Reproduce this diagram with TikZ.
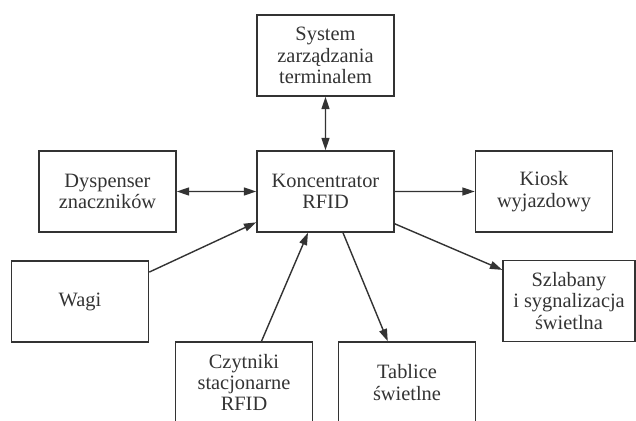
\documentclass[tikz,border=0pt]{standalone}
\usepackage{fontspec}
\setmainfont{Liberation Serif}
\usetikzlibrary{arrows.meta}

\begin{document}
\begin{tikzpicture}[scale=0.2,
		>={Triangle[length=7pt,width=4.5pt]},
		box/.style={draw=black!80, line width=0.85pt, minimum width=2.74cm, minimum height=1.62cm,
			inner sep=0pt, align=center, text=black!80, font=\fontsize{11.6}{12.2}\selectfont},
		link/.style={draw=black!80, line width=0.8pt, ->},
		both/.style={draw=black!80, line width=0.8pt, <->}]
		\useasboundingbox (0,0) rectangle (63.6,-42.1);
		% boxes
		\node [box] (sys) at (32.55,-5.55) {System\\zarządzania\\terminalem};
		\node [box] (hub) at (32.55,-19.15) {Koncentrator\\RFID};
		\node [box] (disp) at (10.75,-19.15) {Dyspenser\\znaczników};
		\node [box] (kiosk) at (54.4,-19.15) {Kiosk\\wyjazdowy};
		\node [box] (wagi) at (8,-30.15) {Wagi};
		\node [box, minimum width=2.64cm] (szlab) at (56.9,-30.1) {Szlabany\\i sygnalizacja\\świetlna};
		\node [box] (czyt) at (24.4,-38.25) {Czytniki\\stacjonarne\\RFID};
		\node [box] (tabl) at (40.7,-38.25) {Tablice\\świetlne};
		% links
		\draw [both] (sys) -- (hub);
		\draw [both] (disp) -- (hub);
		\draw [link] (hub) -- (kiosk);
		\draw [link] (wagi.23) -- (hub.204);
		\draw [link] (czyt.67) -- (hub.247);
		\draw [link] (hub.293) -- (tabl.115);
		\draw [link] (hub.335) -- (szlab.155);
\end{tikzpicture}
\end{document}
